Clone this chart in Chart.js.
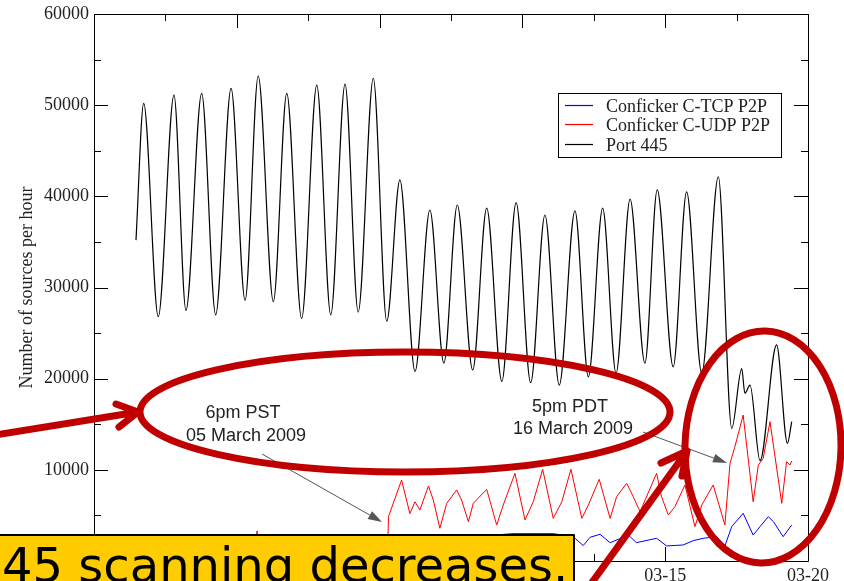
<!DOCTYPE html>
<html lang="en">
<head>
<meta charset="UTF-8" />
<title>Conficker P2P and Port 445 sources per hour</title>
<script src="https://cdn.jsdelivr.net/npm/chart.js"></script>
<style>
  html, body { margin: 0; padding: 0; background: #fff; }
  canvas { display: block; }
</style>
</head>
<body>
<canvas id="chart" width="844" height="581"></canvas>
<script>
// x is in days, counted from 28 Feb 2009 (0 = 02-28, 15 = 03-15)
const xTickDays = [-5, 0, 5, 10, 15, 20];
const xTickLabels = ['02-23', '02-28', '03-05', '03-10', '03-15', '03-20'];
const xMinorDays = [-2.5, 2.5, 7.5, 12.5, 17.5];
const yTickValues = [0, 10000, 20000, 30000, 40000, 50000, 60000];
const yMinorValues = [5000, 15000, 25000, 35000, 45000, 55000];

const port445Days = [-3.53, -3.26, -2.75, -2.20, -1.78, -1.23, -0.74, -0.20, 0.29, 0.75,
  1.28, 1.75, 2.27, 2.80, 3.29, 3.79, 4.25, 4.78, 5.25, 5.71, 6.24, 6.76, 7.25, 7.72,
  8.26, 8.75, 9.28, 9.78, 10.29, 10.79, 11.29, 11.84, 12.31, 12.81, 13.28, 13.77,
  14.29, 14.72, 15.28, 15.75, 16.28, 16.86, 17.33, 17.68, 17.79, 17.97, 18.32, 18.90,
  19.28, 19.43];
const port445Values = [35200, 50200, 26800, 51100, 27500, 51300, 27000, 51850, 28600, 53200,
  28450, 51300, 26600, 52200, 27000, 52300, 27300, 52950, 26300, 41800, 20800, 38500, 21700, 39050,
  20950, 38700, 19700, 39300, 19550, 37950, 19300, 38400, 20200, 38700, 20600, 39700,
  21700, 40700, 21300, 40500, 20600, 42150, 14550, 21100, 18400, 19300, 11000, 23700,
  12900, 15300];

const udpDays = [-3.53, 0.62, 0.71, 0.80, 5.28, 5.31, 5.77, 6.06, 6.24, 6.41, 6.71, 6.88,
  7.11, 7.35, 7.70, 7.87, 8.11, 8.28, 8.75, 9.10, 9.33, 9.74, 10.09, 10.38, 10.71, 11.08,
  11.38, 11.70, 12.08, 12.31, 12.69, 13.07, 13.30, 13.65, 13.88, 14.12, 14.70, 14.87,
  15.11, 15.34, 15.69, 16.04, 16.28, 16.68, 17.09, 17.27, 17.44, 17.73, 18.08, 18.26,
  18.43, 18.67, 19.08, 19.25, 19.37, 19.43];
const udpValues = [400, 500, 3300, 500, 600, 4860, 8880, 5200, 6500, 5590, 8230, 6690,
  3590, 6330, 7790, 6690, 4310, 6330, 7860, 3950, 6140, 9620, 4500, 6500, 10060, 4680,
  6500, 10060, 4680, 6140, 8960, 4680, 7060, 8520, 7060, 5410, 9620, 7060,
  5050, 5960, 8340, 3770, 6140, 8340, 3950, 10720, 12540, 16010, 6500, 10530,
  11260, 15280, 6330, 10890, 10530, 10970];

const tcpDays = [-3.53, 5.28, 5.31, 9.67, 11.07, 11.78, 12.13, 12.37, 12.72, 13.07, 13.71,
  13.99, 14.70, 15.05, 15.63, 15.98, 16.33, 16.80, 17.09, 17.33, 17.73, 18.08, 18.32,
  18.61, 18.79, 19.13, 19.43];
const tcpValues = [500, 600, 2000, 3000, 3000, 2670, 1700, 2600, 2930, 2000, 2850,
  2010, 2490, 1650, 1760, 2230, 2490, 2670, 1650, 3770, 5230, 2850, 3770,
  4860, 4310, 2670, 3950];

const toPoints = (xs, ys) => xs.map((d, i) => ({ x: d, y: ys[i] }));

const serif = '"Liberation Serif", "DejaVu Serif", serif';
const sans = '"Liberation Sans", Arial, sans-serif';
const markRed = '#c00000';

// white page
const background = {
  id: 'background',
  beforeDraw(chart) {
    const ctx = chart.ctx;
    ctx.save();
    ctx.fillStyle = '#fff';
    ctx.fillRect(0, 0, chart.width, chart.height);
    ctx.restore();
  }
};

// grace style box with inward ticks on all four sides
const frameTicks = {
  id: 'frameTicks',
  afterDatasetsDraw(chart) {
    const { ctx, chartArea: a, scales: { x, y } } = chart;
    ctx.save();
    ctx.strokeStyle = '#000';
    ctx.lineWidth = 1;
    ctx.beginPath();
    ctx.rect(Math.round(a.left) + 0.5, Math.round(a.top) + 0.5, Math.round(a.width), Math.round(a.height));
    const xt = (v, len) => {
      const px = Math.round(x.getPixelForValue(v)) + 0.5;
      ctx.moveTo(px, a.bottom); ctx.lineTo(px, a.bottom - len);
      ctx.moveTo(px, a.top); ctx.lineTo(px, a.top + len);
    };
    const yt = (v, len) => {
      const py = Math.round(y.getPixelForValue(v)) + 0.5;
      ctx.moveTo(a.left, py); ctx.lineTo(a.left + len, py);
      ctx.moveTo(a.right, py); ctx.lineTo(a.right - len, py);
    };
    xTickDays.forEach(v => xt(v, 14));
    xMinorDays.forEach(v => xt(v, 7));
    yTickValues.forEach(v => yt(v, 14));
    yMinorValues.forEach(v => yt(v, 7));
    ctx.stroke();
    ctx.restore();
  }
};

function thinArrow(ctx, x1, y1, x2, y2) {
  const ang = Math.atan2(y2 - y1, x2 - x1);
  const len = 14, half = 4.5;
  const bx = x2 - len * Math.cos(ang), by = y2 - len * Math.sin(ang);
  ctx.beginPath();
  ctx.moveTo(x1, y1);
  ctx.lineTo(bx, by);
  ctx.stroke();
  ctx.beginPath();
  ctx.moveTo(x2, y2);
  ctx.lineTo(bx + half * Math.sin(ang), by - half * Math.cos(ang));
  ctx.lineTo(bx - half * Math.sin(ang), by + half * Math.cos(ang));
  ctx.closePath();
  ctx.fill();
}

const overlay = {
  id: 'overlay',
  afterDraw(chart) {
    const ctx = chart.ctx;
    ctx.save();

    // legend box
    ctx.fillStyle = '#fff';
    ctx.fillRect(558, 93, 223, 64);
    ctx.strokeStyle = '#000';
    ctx.lineWidth = 1;
    ctx.strokeRect(558.5, 93.5, 223, 64);
    ctx.font = '18px ' + serif;
    ctx.textAlign = 'left';
    ctx.textBaseline = 'alphabetic';
    chart.data.datasets.forEach((ds, i) => {
      const ry = Math.round(105 + i * 19.3) + 0.5;
      ctx.strokeStyle = ds.borderColor;
      ctx.lineWidth = 1.2;
      ctx.beginPath();
      ctx.moveTo(565, ry);
      ctx.lineTo(593, ry);
      ctx.stroke();
      ctx.fillStyle = '#222';
      ctx.fillText(ds.label, 606, ry + 6.5);
    });

    // time-change notes
    ctx.fillStyle = '#555';
    ctx.strokeStyle = '#555';
    ctx.lineWidth = 1;
    thinArrow(ctx, 262, 454, 382, 522);
    thinArrow(ctx, 643, 432, 727, 463);

    ctx.fillStyle = '#222';
    ctx.font = '18px ' + sans;
    ctx.textAlign = 'center';
    ctx.fillText('6pm PST', 243, 418);
    ctx.fillText('05 March 2009', 246, 441);
    ctx.fillText('5pm PDT', 570, 412);
    ctx.fillText('16 March 2009', 573, 434);

    // red hand-drawn marks
    ctx.strokeStyle = markRed;
    ctx.lineWidth = 7;
    ctx.lineCap = 'round';
    ctx.lineJoin = 'round';
    ctx.beginPath();
    ctx.ellipse(405, 412, 265, 60, 0, 0, Math.PI * 2);
    ctx.stroke();
    ctx.beginPath();
    ctx.ellipse(763, 447, 78, 116, 0.02, 0, Math.PI * 2);
    ctx.stroke();

    ctx.beginPath();
    ctx.moveTo(-5, 435);
    ctx.lineTo(138, 412);
    ctx.moveTo(116, 404);
    ctx.lineTo(138, 412);
    ctx.lineTo(119, 427);
    ctx.stroke();

    ctx.beginPath();
    ctx.moveTo(588, 588);
    ctx.lineTo(687, 451);
    ctx.moveTo(661, 463);
    ctx.lineTo(687, 451);
    ctx.lineTo(682, 476);
    ctx.stroke();

    // yellow caption box
    ctx.fillStyle = '#ffcc00';
    ctx.fillRect(0, 534, 574, 60);
    ctx.strokeStyle = '#000';
    ctx.lineWidth = 2;
    ctx.lineCap = 'butt';
    ctx.strokeRect(-2, 535, 576, 60);
    ctx.fillStyle = '#000';
    ctx.font = '48px "DejaVu Sans", Verdana, sans-serif';
    ctx.textAlign = 'left';
    ctx.fillText('45 scanning decreases.', 2, 582);

    ctx.restore();
  }
};

const chart = new Chart(document.getElementById('chart'), {
  type: 'line',
  data: {
    datasets: [
      {
        label: 'Conficker C-TCP P2P',
        data: toPoints(tcpDays, tcpValues),
        borderColor: '#0000ff',
        borderWidth: 1,
        pointRadius: 0,
        tension: 0
      },
      {
        label: 'Conficker C-UDP P2P',
        data: toPoints(udpDays, udpValues),
        borderColor: '#ff0000',
        borderWidth: 1,
        pointRadius: 0,
        tension: 0
      },
      {
        label: 'Port 445',
        data: toPoints(port445Days, port445Values),
        borderColor: '#000000',
        borderWidth: 1.2,
        pointRadius: 0,
        cubicInterpolationMode: 'monotone'
      }
    ]
  },
  options: {
    responsive: false,
    animation: false,
    devicePixelRatio: 1,
    layout: { padding: { left: 0, right: 36, top: 14, bottom: 0 } },
    plugins: {
      legend: { display: false },
      tooltip: { enabled: false }
    },
    scales: {
      x: {
        type: 'linear',
        min: -5,
        max: 20,
        grid: { display: false, drawTicks: false },
        border: { display: false },
        afterBuildTicks: s => { s.ticks = xTickDays.map(v => ({ value: v })); },
        afterFit: s => { s.height = 20; s.paddingLeft = 0; s.paddingRight = 0; },
        ticks: {
          autoSkip: false,
          maxRotation: 0,
          padding: 4,
          color: '#222',
          font: { family: serif, size: 18 },
          callback: v => xTickLabels[xTickDays.indexOf(v)]
        }
      },
      y: {
        min: 0,
        max: 60000,
        grid: { display: false, drawTicks: false },
        border: { display: false },
        afterBuildTicks: s => { s.ticks = yTickValues.map(v => ({ value: v })); },
        afterFit: s => { s.width = 94; s.paddingTop = 0; s.paddingBottom = 0; },
        title: {
          display: true,
          text: 'Number of sources per hour',
          color: '#222',
          font: { family: serif, size: 18 },
          padding: { top: 16, bottom: 0 }
        },
        ticks: {
          padding: 5,
          color: '#222',
          font: { family: serif, size: 18 },
          callback: v => String(v)
        }
      }
    }
  },
  plugins: [background, frameTicks, overlay]
});
</script>
</body>
</html>
